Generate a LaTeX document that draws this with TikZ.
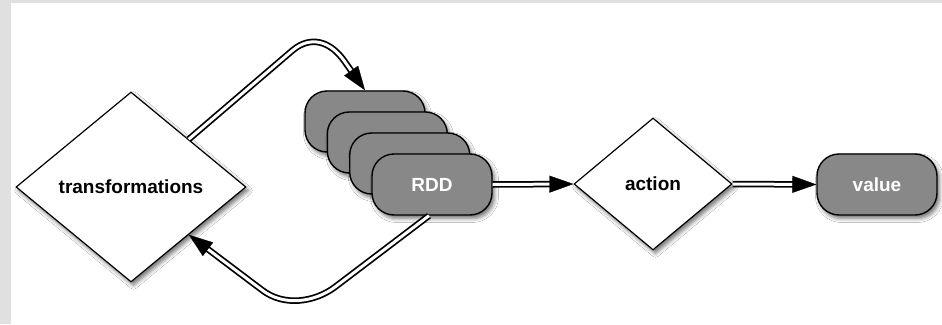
\documentclass[tikz,border=0pt]{standalone}
\usepackage{fontspec}
\setmainfont{Liberation Sans}
\usetikzlibrary{shapes.geometric,arrows.meta,shadows.blur}
\definecolor{framegray}{RGB}{224,224,224}
\definecolor{boxgray}{RGB}{136,136,136}

\begin{document}
\begin{tikzpicture}[x=1pt,y=-1pt,
  every node/.style={font=\fontsize{19}{22}\selectfont\bfseries},
  softshadow/.style={blur shadow={shadow xshift=2.5pt,shadow yshift=-3.5pt,
      shadow blur radius=4pt,shadow opacity=55}},
  choice/.style={diamond, draw=black, line width=1.2pt, fill=white,
      inner sep=0pt, softshadow},
  pill/.style={rectangle, rounded corners=22pt, draw=black, line width=1.4pt,
      fill=boxgray, text=white, minimum width=120pt, minimum height=61pt,
      inner sep=0pt, softshadow},
  % double-line connector with a solid triangular head
  flow/.style={draw=black, line width=6.5pt, shorten >=22pt,
      postaction={draw=white, line width=3pt, shorten >=22pt},
      postaction={draw=white, line width=0.3pt, shorten >=0pt,
                  -{Triangle[length=24pt,width=17pt,black]}}},
]
\useasboundingbox (0,0) rectangle (942,324);
\fill[framegray] (0,0) rectangle (942,324);
\fill[white] (11,3) rectangle (942,324);

% nodes
\node[choice, minimum width=230pt, minimum height=190pt] (tr) at (131,187) {transformations};
\node[pill] (r1) at (365,121.5) {};
\node[pill] (r2) at (387.3,142.5) {};
\node[pill] (r3) at (409.7,163.5) {};
\node[pill] (r4) at (432,184.5) {RDD};
\node[choice, minimum width=158pt, minimum height=132pt] (act) at (653,184) {action};
\node[pill] (val) at (877,184.5) {value};

% connectors
\draw[flow] (r4.east) -- (act.west);
\draw[flow] (act.east) -- (val.west);
\draw[flow] (tr.north east) -- (293,50) .. controls (310,36) and (330,40) .. (345,62) -- (r1.north);
\draw[flow] ([xshift=-3pt]r4.south) -- (335,287) .. controls (315,302) and (284,307) .. (262,290) -- (tr.south east);
\end{tikzpicture}
\end{document}
